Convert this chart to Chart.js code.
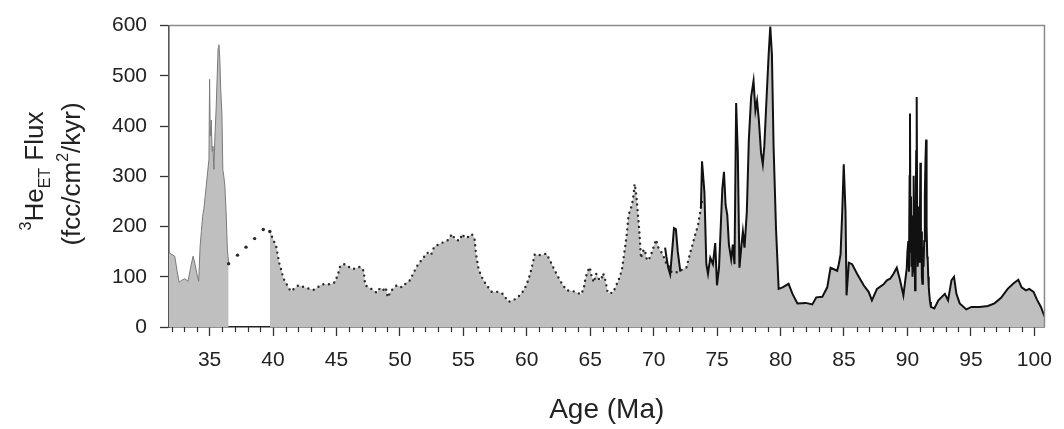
<!DOCTYPE html>
<html>
<head>
<meta charset="utf-8">
<title>3He ET Flux vs Age</title>
<script src="https://cdn.jsdelivr.net/npm/chart.js@4.4.1/dist/chart.umd.min.js"></script>
<style>
  html, body { margin: 0; padding: 0; background: #fff; }
  #wrap { width: 1064px; height: 429px; }
</style>
</head>
<body>
<div id="wrap"><canvas id="fluxChart" width="1064" height="429"></canvas></div>
<script>
// ------------------------------------------------------------
// Data: age (Ma) and 3He ET flux (fcc/cm2/kyr), one pair of arrays per record
// ------------------------------------------------------------

// older spiky record at the young end (thin grey outline)
var ageEarly  = [31.8, 32.25, 32.45, 32.6, 32.8, 33.05, 33.3, 33.5, 33.7, 33.85, 34.0, 34.14, 34.25, 34.35, 34.45, 34.55, 34.65, 34.74, 34.85, 34.95, 35.0, 35.05, 35.13, 35.2, 35.26, 35.34, 35.42, 35.52, 35.6, 35.67, 35.73, 35.8, 35.88, 35.97, 36.04, 36.12, 36.2, 36.3, 36.4, 36.5];
var fluxEarly = [148, 141, 110, 89, 93, 96, 91, 118, 141, 125, 106, 91, 160, 190, 220, 236, 260, 282, 310, 334, 493, 380, 412, 350, 360, 314, 380, 438, 500, 555, 562, 536, 470, 425, 314, 300, 282, 229, 155, 126];

// sparse samples across the unfilled interval
var ageGap  = [36.5, 37.2, 37.87, 38.55, 39.23, 39.75];
var fluxGap = [126, 143, 159, 176, 194, 190];

// dotted record
var ageDotted = [39.75, 40.0, 40.26, 40.48, 40.66, 40.8, 41.05, 41.4, 42.0, 42.6, 43.2, 43.87, 44.5, 44.87, 45.13, 45.3, 45.62, 46.28, 46.88, 47.14, 47.27, 47.74, 48.18, 48.44, 48.7, 48.88, 49.04, 49.3, 49.74, 50.19, 50.53, 50.8, 51.05, 51.39, 51.78, 52.17, 52.44, 52.7, 53.27, 53.79, 54.1, 54.37, 54.71, 54.89, 55.15, 55.36, 55.67, 55.88, 56.0, 56.2, 56.46, 56.8, 57.24, 57.71, 58.1, 58.57, 59.22, 59.67, 59.98, 60.27, 60.45, 60.63, 60.97, 61.55, 61.84, 62.15, 62.46, 62.8, 63.14, 63.7, 64.3, 64.5, 64.62, 64.76, 64.97, 65.1, 65.28, 65.46, 65.67, 65.85, 66.0, 66.13, 66.27, 66.38, 66.79, 67.05, 67.32, 67.5, 67.63, 67.76, 67.89, 68.02, 68.15, 68.28, 68.41, 68.5, 68.59, 68.67, 68.75, 68.85, 68.93, 69.0, 69.14, 69.32, 69.4, 69.58, 69.85, 70.18, 70.37, 70.71, 70.97, 71.15, 71.41, 71.93, 72.27, 72.59, 72.85, 73.06, 73.24, 73.5, 73.69, 73.85];
var fluxDotted = [190, 175, 159, 128, 113, 98, 86, 71, 83, 78, 74, 85, 85, 89, 106, 122, 125, 115, 120, 112, 83, 76, 68, 78, 74, 79, 59, 72, 83, 79, 89, 93, 107, 123, 136, 148, 143, 160, 167, 173, 185, 174, 172, 185, 177, 179, 185, 176, 145, 115, 99, 84, 70, 70, 66, 50, 57, 70, 84, 106, 125, 145, 143, 146, 132, 115, 100, 85, 73, 71, 65, 79, 96, 109, 119, 102, 89, 106, 96, 93, 107, 100, 83, 68, 68, 83, 99, 115, 138, 161, 187, 223, 233, 242, 262, 285, 272, 252, 226, 197, 167, 137, 151, 154, 138, 132, 148, 174, 158, 145, 128, 125, 109, 109, 115, 119, 145, 164, 181, 203, 233, 255];

// solid record (null = no samples)
var ageSolid = [70.9, 71.0, 71.15, 71.3, 71.45, 71.6, 71.75, 71.9, 72.1, 73.0, 73.72, 73.81, 74.0, 74.15, 74.28, 74.46, 74.67, 74.85, 74.99, 75.15, 75.41, 75.54, 75.67, 75.8, 75.93, 76.11, 76.24, 76.37, 76.5, 76.63, 76.76, 76.9, 77.03, 77.16, 77.34, 77.5, 77.68, 77.87, 78.02, 78.15, 78.29, 78.46, 78.6, 78.72, 78.9, 79.06, 79.19, 79.32, 79.45, 79.64, 79.85, 80.16, 80.63, 80.94, 81.33, 81.98, 82.5, 82.82, 83.29, 83.68, 83.94, 84.2, 84.46, 84.59, 84.73, 84.86, 84.98, 85.12, 85.2, 85.38, 85.64, 86.03, 86.55, 86.94, 87.2, 87.6, 88.12, 88.38, 88.64, 88.9, 89.16, 89.42, 89.68, 89.94,
  90.0, 90.07, 90.12, 90.17, 90.2, 90.24, 90.28, 90.32, 90.36, 90.4, 90.45, 90.49, 90.53, 90.57, 90.6, 90.64, 90.69, 90.73, 90.77, 90.81, 90.86, 90.9, 90.94, 90.98, 91.02, 91.06, 91.1, 91.14, 91.18, 91.22, 91.27, 91.32, 91.37, 91.42, 91.47, 91.51, 91.56, 91.6, 91.64, 91.68, 91.72, 91.78,
  91.85, 92.12, 92.44, 92.95, 93.2, 93.47, 93.67, 93.86, 94.12, 94.64, 95.04, 95.69, 96.34, 96.86, 97.38, 97.9, 98.37, 98.74, 99.0, 99.34, 99.6, 99.94, 100.2, 100.52, 100.8];
var fluxSolid = [158, 140, 118, 105, 150, 197, 195, 150, 110, null, 236, 330, 268, 125, 106, 138, 125, 167, 83, 118, 275, 309, 243, 223, 164, 135, 164, 125, 446, 347, 118, 158, 190, 158, 229, 373, 458, 490, 431, 450, 412, 347, 324, 360, 458, 542, 598, 542, 360, 197, 76, 79, 86, 66, 47, 48, 45, 59, 60, 79, 118, 115, 112, 125, 145, 229, 324, 229, 63, 128, 125, 106, 83, 70, 53, 76, 85, 93, 96, 106, 118, 93, 63, 115,
  150, 171, 110, 300, 425, 150, 260, 120, 180, 100, 220, 301, 110, 170, 73, 190, 350, 458, 200, 120, 158, 240, 130, 200, 327, 140, 190, 100, 86, 160, 120, 171, 260, 330, 373, 200, 140, 132, 100, 80, 66, 50,
  40, 37, 53, 66, 53, 93, 100, 66, 47, 35, 40, 40, 42, 47, 58, 76, 87, 94, 79, 73, 76, 70, 55, 40, 21];

// axes
var xMin = 31.8, xMax = 100.8;
var xTicks = [35, 40, 45, 50, 55, 60, 65, 70, 75, 80, 85, 90, 95, 100];
var yTicks = [0, 100, 200, 300, 400, 500, 600];

var FONT = '"Liberation Sans", Arial, Helvetica, sans-serif';
var FILL = '#bfbfbf';
var INK = '#222';

function pairs(xs, ys) {
  return xs.map(function(x, i) { return { x: x, y: ys[i] }; });
}

// top/right frame lines and the 1 Ma minor ticks
var frameAndMinor = {
  id: 'frameAndMinor',
  afterDraw: function(chart) {
    var ctx = chart.ctx, a = chart.chartArea, xs = chart.scales.x;
    ctx.save();
    ctx.strokeStyle = '#8a8a8a';
    ctx.lineWidth = 1.5;
    ctx.beginPath();
    ctx.moveTo(a.left, a.top);
    ctx.lineTo(a.right, a.top);
    ctx.lineTo(a.right, a.bottom);
    ctx.stroke();

    ctx.strokeStyle = '#333';
    ctx.lineWidth = 1.2;
    for (var v = Math.ceil(xMin); v <= xMax; v++) {
      if (v % 5 === 0) continue;
      var px = Math.round(xs.getPixelForValue(v)) + 0.5;
      ctx.beginPath();
      ctx.moveTo(px, a.bottom);
      ctx.lineTo(px, a.bottom + 5);
      ctx.stroke();
    }
    ctx.restore();
  }
};

// rotated y title with super/subscripts
function drawRotatedRun(ctx, parts, x, yCenter) {
  var total = 0;
  parts.forEach(function(p) {
    ctx.font = p.size + 'px ' + FONT;
    p.w = ctx.measureText(p.t).width;
    total += p.w;
  });
  ctx.save();
  ctx.translate(x, yCenter);
  ctx.rotate(-Math.PI / 2);
  ctx.textAlign = 'left';
  ctx.textBaseline = 'alphabetic';
  ctx.fillStyle = INK;
  var cx = -total / 2;
  parts.forEach(function(p) {
    ctx.font = p.size + 'px ' + FONT;
    ctx.fillText(p.t, cx, p.dy);
    cx += p.w;
  });
  ctx.restore();
}

var yTitle = {
  id: 'yTitle',
  afterDraw: function(chart) {
    var ctx = chart.ctx;
    drawRotatedRun(ctx, [
      { t: '3', size: 16, dy: -12 },
      { t: 'He', size: 26, dy: 0 },
      { t: 'ET', size: 16, dy: 7 },
      { t: ' Flux', size: 26, dy: 0 }
    ], 43, 171);
    drawRotatedRun(ctx, [
      { t: '(fcc/cm', size: 26, dy: 0 },
      { t: '2', size: 16, dy: -12 },
      { t: '/kyr)', size: 26, dy: 0 }
    ], 80, 174);
  }
};

Chart.defaults.font.family = FONT;
Chart.defaults.color = INK;

var chart = new Chart(document.getElementById('fluxChart').getContext('2d'), {
  type: 'line',
  data: {
    datasets: [
      {
        label: 'solid',
        data: pairs(ageSolid, fluxSolid),
        borderColor: '#111',
        borderWidth: 2,
        backgroundColor: FILL,
        fill: 'origin',
        pointRadius: 0,
        tension: 0,
        spanGaps: false
      },
      {
        label: 'dotted',
        data: pairs(ageDotted, fluxDotted),
        borderColor: '#2a2a2a',
        borderWidth: 2.4,
        borderDash: [0, 5.6],
        borderCapStyle: 'round',
        borderJoinStyle: 'round',
        backgroundColor: FILL,
        fill: 'origin',
        pointRadius: 0,
        tension: 0
      },
      {
        label: 'gap',
        data: pairs(ageGap, fluxGap),
        showLine: false,
        fill: false,
        pointRadius: 1.7,
        pointBorderWidth: 0,
        pointBackgroundColor: '#2a2a2a'
      },
      {
        label: 'early',
        data: pairs(ageEarly, fluxEarly),
        borderColor: '#7a7a7a',
        borderWidth: 1,
        backgroundColor: FILL,
        fill: 'origin',
        pointRadius: 0,
        tension: 0
      }
    ]
  },
  options: {
    responsive: false,
    animation: false,
    devicePixelRatio: 1,
    layout: { padding: { left: 0, right: 14, top: 21, bottom: 0 } },
    plugins: {
      legend: { display: false },
      tooltip: { enabled: false },
      filler: { propagate: false, drawTime: 'beforeDatasetsDraw' }
    },
    scales: {
      x: {
        type: 'linear',
        min: xMin,
        max: xMax,
        afterBuildTicks: function(scale) {
          scale.ticks = xTicks.map(function(v) { return { value: v }; });
        },
        afterFit: function(scale) { scale.height = 102; },
        ticks: {
          autoSkip: false,
          maxRotation: 0,
          padding: 12,
          font: { size: 21 },
          color: INK,
          callback: function(v) { return String(v); }
        },
        grid: {
          drawOnChartArea: false,
          drawTicks: true,
          tickLength: 9,
          tickWidth: 1.3,
          tickColor: '#333'
        },
        border: { display: true, color: '#222', width: 1.6 },
        title: {
          display: true,
          text: 'Age (Ma)',
          font: { size: 28 },
          color: INK,
          padding: { top: 0, bottom: 2 }
        }
      },
      y: {
        min: 0,
        max: 600,
        afterBuildTicks: function(scale) {
          scale.ticks = yTicks.map(function(v) { return { value: v }; });
        },
        afterFit: function(scale) { scale.width = 169; },
        ticks: {
          padding: 13,
          font: { size: 21 },
          color: INK
        },
        grid: {
          drawOnChartArea: false,
          drawTicks: true,
          tickLength: 9,
          tickWidth: 1.3,
          tickColor: '#333'
        },
        border: { display: true, color: '#555', width: 1.6 }
      }
    }
  },
  plugins: [frameAndMinor, yTitle]
});
</script>
</body>
</html>
